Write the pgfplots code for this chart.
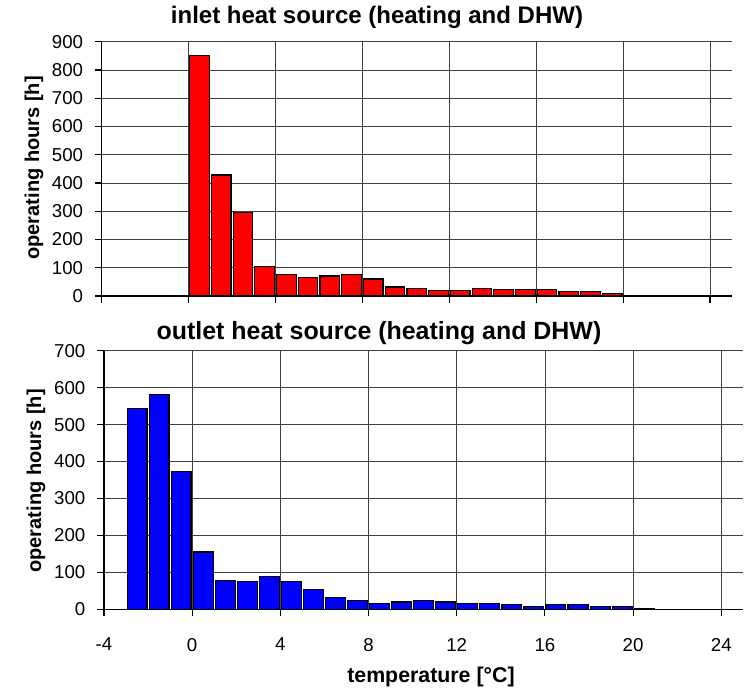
\documentclass[border=0pt]{standalone}
\usepackage{fontspec}
\setmainfont{Liberation Sans}
\usepackage{pgfplots}
\pgfplotsset{compat=1.18}
\pgfplotsset{
  hist/.style={
    scale only axis,
    anchor=south west,
    xmin=-4, xmax=25, ymin=0,
    enlargelimits=false,
    axis x line=bottom, axis y line=left,
    every outer x axis line/.append style={-},
    every outer y axis line/.append style={-},
    axis line style={black, line width=0.8pt},
    xtick={-4,0,...,24},
    grid=major,
    major grid style={black!75, line width=0.6pt},
    tick align=outside,
    major tick length=5pt,
    tick style={black, line width=0.8pt},
    ybar, bar width=0.9, bar shift=0pt,
    /pgf/number format/assume math mode=true,
    tick label style={font=\fontsize{14}{16}\selectfont},
    yticklabel style={xshift=-5.5pt},
    xticklabel style={yshift=-13pt},
  }
}
\begin{document}
\begin{tikzpicture}
\useasboundingbox (0,0) rectangle (567pt,516pt);
\begin{axis}[hist, at={(76.3pt,294pt)}, width=472.5pt, height=190.7pt,
  ymax=900, ytick={0,100,...,900}, xticklabels={}]
\addplot[fill=red, draw=black, line width=0.9pt] coordinates {
(0.5,850) (1.5,428) (2.5,296) (3.5,103) (4.5,76) (5.5,65) (6.5,71) (7.5,76)
(8.5,60) (9.5,32) (10.5,27) (11.5,20) (12.5,20) (13.5,27) (14.5,22) (15.5,22)
(16.5,22) (17.5,15) (18.5,15) (19.5,9) (20.5,3)};
\end{axis}
\begin{axis}[hist, at={(78pt,59pt)}, width=479.5pt, height=194pt,
  ymax=700, ytick={0,100,...,700}]
\addplot[fill=blue, draw=black, line width=0.9pt] coordinates {
(-2.5,544) (-1.5,582) (-0.5,374) (0.5,155) (1.5,79) (2.5,75) (3.5,88) (4.5,75)
(5.5,54) (6.5,33) (7.5,24) (8.5,15) (9.5,20) (10.5,24) (11.5,20) (12.5,15)
(13.5,15) (14.5,12) (15.5,7) (16.5,12) (17.5,12) (18.5,7) (19.5,7) (20.5,3)};
\end{axis}
\node[inner sep=0pt, font=\fontsize{18}{20}\selectfont\bfseries] at (282.75pt,503.25pt) {inlet heat source (heating and DHW)};
\node[inner sep=0pt, font=\fontsize{18.7}{21}\selectfont\bfseries] at (284.25pt,266.25pt) {outlet heat source (heating and DHW)};
\node[inner sep=0pt, rotate=90, font=\fontsize{15}{17}\selectfont\bfseries] at (25.5pt,390pt) {operating hours [h]};
\node[inner sep=0pt, rotate=90, font=\fontsize{15}{17}\selectfont\bfseries] at (27pt,155.25pt) {operating hours [h]};
\node[inner sep=0pt, font=\fontsize{16}{18}\selectfont\bfseries] at (323.25pt,8pt) {temperature [°C]};
\end{tikzpicture}
\end{document}
